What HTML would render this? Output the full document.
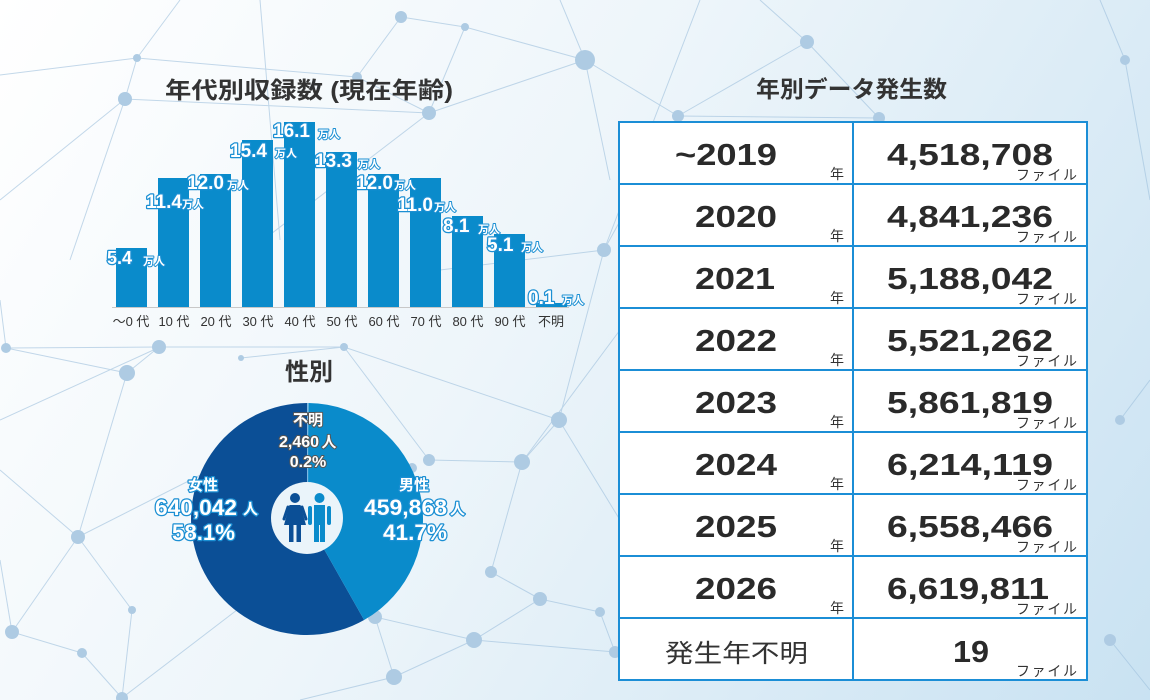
<!DOCTYPE html>
<html><head><meta charset="utf-8"><style>
html,body{margin:0;padding:0;}
body{width:1150px;height:700px;overflow:hidden;}
svg{display:block;font-family:"Liberation Sans","Noto Sans CJK JP",sans-serif;}
</style></head><body>
<svg width="1150" height="700" viewBox="0 0 1150 700" xmlns="http://www.w3.org/2000/svg">
<defs>
<linearGradient id="bg" x1="0" y1="0" x2="1150" y2="700" gradientUnits="userSpaceOnUse">
<stop offset="0" stop-color="#ffffff"/>
<stop offset="0.45" stop-color="#edf5fa"/>
<stop offset="1" stop-color="#c9e2f2"/>
</linearGradient>
</defs>
<rect width="1150" height="700" fill="url(#bg)"/>
<!-- network -->
<g stroke="#9dbfdc" stroke-width="1" opacity="0.6" fill="none">
<line x1="0" y1="75" x2="137" y2="58"/><line x1="137" y1="58" x2="125" y2="99"/><line x1="137" y1="58" x2="357" y2="77"/><line x1="137" y1="58" x2="180" y2="0"/>
<line x1="125" y1="99" x2="0" y2="200"/><line x1="125" y1="99" x2="429" y2="113"/><line x1="125" y1="99" x2="70" y2="260"/>
<line x1="401" y1="17" x2="465" y2="27"/><line x1="401" y1="17" x2="357" y2="77"/><line x1="465" y1="27" x2="585" y2="60"/><line x1="465" y1="27" x2="429" y2="113"/>
<line x1="585" y1="60" x2="429" y2="113"/><line x1="585" y1="60" x2="678" y2="116"/><line x1="585" y1="60" x2="560" y2="0"/><line x1="585" y1="60" x2="610" y2="180"/>
<line x1="429" y1="113" x2="357" y2="77"/><line x1="429" y1="113" x2="250" y2="250"/><line x1="807" y1="42" x2="678" y2="116"/><line x1="807" y1="42" x2="879" y2="118"/><line x1="807" y1="42" x2="760" y2="0"/>
<line x1="678" y1="116" x2="879" y2="118"/><line x1="678" y1="116" x2="604" y2="250"/><line x1="604" y1="250" x2="559" y2="420"/><line x1="604" y1="250" x2="440" y2="270"/>
<line x1="159" y1="347" x2="127" y2="373"/><line x1="159" y1="347" x2="344" y2="347"/><line x1="159" y1="347" x2="6" y2="348"/><line x1="127" y1="373" x2="78" y2="537"/>
<line x1="241" y1="358" x2="344" y2="347"/><line x1="344" y1="347" x2="429" y2="460"/><line x1="344" y1="347" x2="559" y2="420"/><line x1="559" y1="420" x2="522" y2="462"/>
<line x1="522" y1="462" x2="429" y2="460"/><line x1="522" y1="462" x2="491" y2="572"/><line x1="522" y1="462" x2="620" y2="330"/><line x1="491" y1="572" x2="540" y2="599"/>
<line x1="540" y1="599" x2="600" y2="612"/><line x1="540" y1="599" x2="474" y2="640"/><line x1="474" y1="640" x2="394" y2="677"/><line x1="375" y1="617" x2="474" y2="640"/>
<line x1="375" y1="617" x2="394" y2="677"/><line x1="375" y1="617" x2="412" y2="468"/><line x1="78" y1="537" x2="12" y2="632"/><line x1="78" y1="537" x2="132" y2="610"/>
<line x1="12" y1="632" x2="82" y2="653"/><line x1="82" y1="653" x2="122" y2="698"/><line x1="132" y1="610" x2="122" y2="698"/><line x1="12" y1="632" x2="0" y2="560"/>
<line x1="78" y1="537" x2="0" y2="470"/><line x1="6" y1="348" x2="0" y2="300"/><line x1="6" y1="348" x2="127" y2="373"/><line x1="600" y1="612" x2="615" y2="652"/>
<line x1="615" y1="652" x2="474" y2="640"/><line x1="394" y1="677" x2="300" y2="700"/><line x1="122" y1="698" x2="250" y2="600"/><line x1="0" y1="420" x2="160" y2="347"/>
<line x1="260" y1="0" x2="280" y2="240"/><line x1="700" y1="0" x2="604" y2="250"/><line x1="1100" y1="0" x2="1125" y2="60"/><line x1="1125" y1="60" x2="1150" y2="200"/>
<line x1="1120" y1="420" x2="1150" y2="380"/><line x1="1110" y1="640" x2="1150" y2="690"/><line x1="559" y1="420" x2="620" y2="520"/><line x1="78" y1="537" x2="230" y2="460"/>
</g>
<g fill="#aecbe3">
<circle cx="137" cy="58" r="4"/><circle cx="125" cy="99" r="7"/><circle cx="401" cy="17" r="6"/><circle cx="465" cy="27" r="4"/><circle cx="585" cy="60" r="10"/>
<circle cx="429" cy="113" r="7"/><circle cx="357" cy="77" r="5"/><circle cx="807" cy="42" r="7"/><circle cx="678" cy="116" r="6"/><circle cx="879" cy="118" r="6"/>
<circle cx="159" cy="347" r="7"/><circle cx="127" cy="373" r="8"/><circle cx="6" cy="348" r="5"/><circle cx="241" cy="358" r="3"/><circle cx="344" cy="347" r="4"/>
<circle cx="559" cy="420" r="8"/><circle cx="429" cy="460" r="6"/><circle cx="522" cy="462" r="8"/><circle cx="412" cy="468" r="5"/><circle cx="78" cy="537" r="7"/>
<circle cx="12" cy="632" r="7"/><circle cx="82" cy="653" r="5"/><circle cx="132" cy="610" r="4"/><circle cx="491" cy="572" r="6"/><circle cx="540" cy="599" r="7"/>
<circle cx="600" cy="612" r="5"/><circle cx="474" cy="640" r="8"/><circle cx="375" cy="617" r="7"/><circle cx="394" cy="677" r="8"/><circle cx="615" cy="652" r="6"/>
<circle cx="122" cy="698" r="6"/><circle cx="604" cy="250" r="7"/><circle cx="1125" cy="60" r="5"/><circle cx="1120" cy="420" r="5"/><circle cx="1110" cy="640" r="6"/>
</g>

<!-- titles -->
<text x="165" y="98" font-size="23" font-weight="bold" fill="#333" textLength="288" lengthAdjust="spacingAndGlyphs">年代別収録数 (現在年齢)</text>
<text x="309" y="380" font-size="24" font-weight="bold" fill="#333" text-anchor="middle">性別</text>
<text x="756" y="97" font-size="23" font-weight="bold" fill="#333" textLength="191" lengthAdjust="spacingAndGlyphs">年別データ発生数</text>

<!-- bars -->
<g fill="#0a8bcb">
<rect x="116" y="248" width="31" height="59"/>
<rect x="158" y="178" width="31" height="129"/>
<rect x="200" y="174" width="31" height="133"/>
<rect x="242" y="140" width="31" height="167"/>
<rect x="284" y="122" width="31" height="185"/>
<rect x="326" y="152" width="31" height="155"/>
<rect x="368" y="174" width="31" height="133"/>
<rect x="410" y="178" width="31" height="129"/>
<rect x="452" y="216" width="31" height="91"/>
<rect x="494" y="234" width="31" height="73"/>
<rect x="536" y="303" width="31" height="4"/>
</g>
<line x1="112" y1="307.5" x2="569" y2="307.5" stroke="#c8c8c8" stroke-width="1"/>

<g font-weight="bold" fill="#fff" stroke="#1b8fd3" stroke-width="2.5" paint-order="stroke" stroke-linejoin="round">
<text x="107" y="264" font-size="18">5.4</text>
<text x="146" y="208" font-size="19">11.4</text>
<text x="187" y="189" font-size="19">12.0</text>
<text x="230" y="157" font-size="19">15.4</text>
<text x="273" y="137" font-size="19">16.1</text>
<text x="315" y="167" font-size="19">13.3</text>
<text x="356" y="189" font-size="19">12.0</text>
<text x="397" y="211" font-size="19">11.0</text>
<text x="443" y="232" font-size="19">8.1</text>
<text x="487" y="251" font-size="19">5.1</text>
<text x="528" y="304" font-size="19">0.1</text>
</g>
<g font-size="11" font-weight="bold" fill="#fff" stroke="#1b8fd3" stroke-width="2" paint-order="stroke" stroke-linejoin="round">
<text x="143" y="265">万人</text>
<text x="182" y="208">万人</text>
<text x="227" y="189">万人</text>
<text x="275" y="157">万人</text>
<text x="318" y="138">万人</text>
<text x="358" y="168">万人</text>
<text x="394" y="189">万人</text>
<text x="434" y="211">万人</text>
<text x="478" y="233">万人</text>
<text x="521" y="251">万人</text>
<text x="562" y="304">万人</text>
</g>
<g font-size="13" fill="#333" text-anchor="middle">
<text x="131" y="326">～0 代</text>
<text x="174" y="326">10 代</text>
<text x="216" y="326">20 代</text>
<text x="258" y="326">30 代</text>
<text x="300" y="326">40 代</text>
<text x="342" y="326">50 代</text>
<text x="384" y="326">60 代</text>
<text x="426" y="326">70 代</text>
<text x="468" y="326">80 代</text>
<text x="510" y="326">90 代</text>
<text x="551" y="326">不明</text>
</g>

<!-- pie -->
<path d="M307,519 L364.12,619.97 A116,116 0 1 1 307,403 Z" fill="#0b4f96"/>
<path d="M307,519 L308.46,403.01 A116,116 0 0 1 364.12,619.97 Z" fill="#0a8bcb"/>
<line x1="307.6" y1="403" x2="307.6" y2="483" stroke="#7db8e2" stroke-width="1.2"/>
<circle cx="307" cy="518" r="36" fill="#eaf4fa"/>
<!-- female icon -->
<g fill="#0b4f96">
<circle cx="295" cy="498" r="5"/>
<path d="M289.5,505 L300.5,505 L306,525 L284,525 Z"/>
<rect x="289" y="524" width="4.5" height="18"/>
<rect x="296.5" y="524" width="4.5" height="18"/>
</g>
<g stroke="#0b4f96" stroke-width="3" stroke-linecap="round">
<line x1="288" y1="507" x2="284" y2="519"/><line x1="302" y1="507" x2="306" y2="519"/>
</g>
<!-- male icon -->
<g fill="#0a8bcb">
<circle cx="319.5" cy="498" r="5"/>
<path d="M314,505 L325,505 L325,525 L314,525 Z"/>
<rect x="308" y="506" width="4" height="19" rx="2"/>
<rect x="327" y="506" width="4" height="19" rx="2"/>
<rect x="314" y="524" width="5" height="18"/>
<rect x="320" y="524" width="5" height="18"/>
</g>

<!-- pie labels -->
<g font-weight="bold" fill="#fff" stroke="#555" stroke-width="2" paint-order="stroke" stroke-linejoin="round" text-anchor="middle">
<text x="308" y="425" font-size="15">不明</text>
<text x="299" y="447" font-size="16">2,460</text>
<text x="329" y="447" font-size="15">人</text>
<text x="308" y="467" font-size="16">0.2%</text>
</g>
<g font-weight="bold" fill="#fff" stroke="#1b8fd3" stroke-width="2.5" paint-order="stroke" stroke-linejoin="round">
<text x="203" y="490" font-size="15" text-anchor="middle">女性</text>
<text x="155" y="515" font-size="22" textLength="82" lengthAdjust="spacingAndGlyphs">640,042</text>
<text x="243" y="514" font-size="15">人</text>
<text x="172" y="540" font-size="22" textLength="63" lengthAdjust="spacingAndGlyphs">58.1%</text>
<text x="414" y="490" font-size="15" text-anchor="middle">男性</text>
<text x="364" y="515" font-size="22" textLength="83" lengthAdjust="spacingAndGlyphs">459,868</text>
<text x="450" y="514" font-size="15">人</text>
<text x="383" y="540" font-size="22" textLength="64" lengthAdjust="spacingAndGlyphs">41.7%</text>
</g>

<!-- table -->
<rect x="619" y="122" width="468" height="558" fill="#fff" stroke="#1b8ed6" stroke-width="2"/>
<g stroke="#1b8ed6" stroke-width="2">
<line x1="853" y1="122" x2="853" y2="680"/>
<line x1="619" y1="184" x2="1087" y2="184"/>
<line x1="619" y1="246" x2="1087" y2="246"/>
<line x1="619" y1="308" x2="1087" y2="308"/>
<line x1="619" y1="370" x2="1087" y2="370"/>
<line x1="619" y1="432" x2="1087" y2="432"/>
<line x1="619" y1="494" x2="1087" y2="494"/>
<line x1="619" y1="556" x2="1087" y2="556"/>
<line x1="619" y1="618" x2="1087" y2="618"/>
</g>
<g font-size="31" font-weight="bold" fill="#2a2a2a">
<text x="675" y="165" textLength="102" lengthAdjust="spacingAndGlyphs">~2019</text>
<text x="695" y="227" textLength="82" lengthAdjust="spacingAndGlyphs">2020</text>
<text x="695" y="289" textLength="80" lengthAdjust="spacingAndGlyphs">2021</text>
<text x="695" y="351" textLength="82" lengthAdjust="spacingAndGlyphs">2022</text>
<text x="695" y="413" textLength="82" lengthAdjust="spacingAndGlyphs">2023</text>
<text x="695" y="475" textLength="82" lengthAdjust="spacingAndGlyphs">2024</text>
<text x="695" y="537" textLength="82" lengthAdjust="spacingAndGlyphs">2025</text>
<text x="695" y="599" textLength="82" lengthAdjust="spacingAndGlyphs">2026</text>
<text x="887" y="165" textLength="166" lengthAdjust="spacingAndGlyphs">4,518,708</text>
<text x="887" y="227" textLength="166" lengthAdjust="spacingAndGlyphs">4,841,236</text>
<text x="887" y="289" textLength="166" lengthAdjust="spacingAndGlyphs">5,188,042</text>
<text x="887" y="351" textLength="166" lengthAdjust="spacingAndGlyphs">5,521,262</text>
<text x="887" y="413" textLength="166" lengthAdjust="spacingAndGlyphs">5,861,819</text>
<text x="887" y="475" textLength="166" lengthAdjust="spacingAndGlyphs">6,214,119</text>
<text x="887" y="537" textLength="166" lengthAdjust="spacingAndGlyphs">6,558,466</text>
<text x="887" y="599" textLength="162" lengthAdjust="spacingAndGlyphs">6,619,811</text>
<text x="953" y="662" textLength="36" lengthAdjust="spacingAndGlyphs">19</text>
</g>
<text x="665" y="662" font-size="25" fill="#333" textLength="143" lengthAdjust="spacingAndGlyphs">発生年不明</text>
<g font-size="14" fill="#333">
<text x="830" y="179">年</text>
<text x="830" y="241">年</text>
<text x="830" y="303">年</text>
<text x="830" y="365">年</text>
<text x="830" y="427">年</text>
<text x="830" y="489">年</text>
<text x="830" y="551">年</text>
<text x="830" y="613">年</text>
</g>
<g font-size="14" fill="#333">
<text x="1016" y="180" textLength="61" lengthAdjust="spacing">ファイル</text>
<text x="1016" y="242" textLength="61" lengthAdjust="spacing">ファイル</text>
<text x="1016" y="304" textLength="61" lengthAdjust="spacing">ファイル</text>
<text x="1016" y="366" textLength="61" lengthAdjust="spacing">ファイル</text>
<text x="1016" y="428" textLength="61" lengthAdjust="spacing">ファイル</text>
<text x="1016" y="490" textLength="61" lengthAdjust="spacing">ファイル</text>
<text x="1016" y="552" textLength="61" lengthAdjust="spacing">ファイル</text>
<text x="1016" y="614" textLength="61" lengthAdjust="spacing">ファイル</text>
<text x="1016" y="676" textLength="61" lengthAdjust="spacing">ファイル</text>
</g>
</svg>
</body></html>
